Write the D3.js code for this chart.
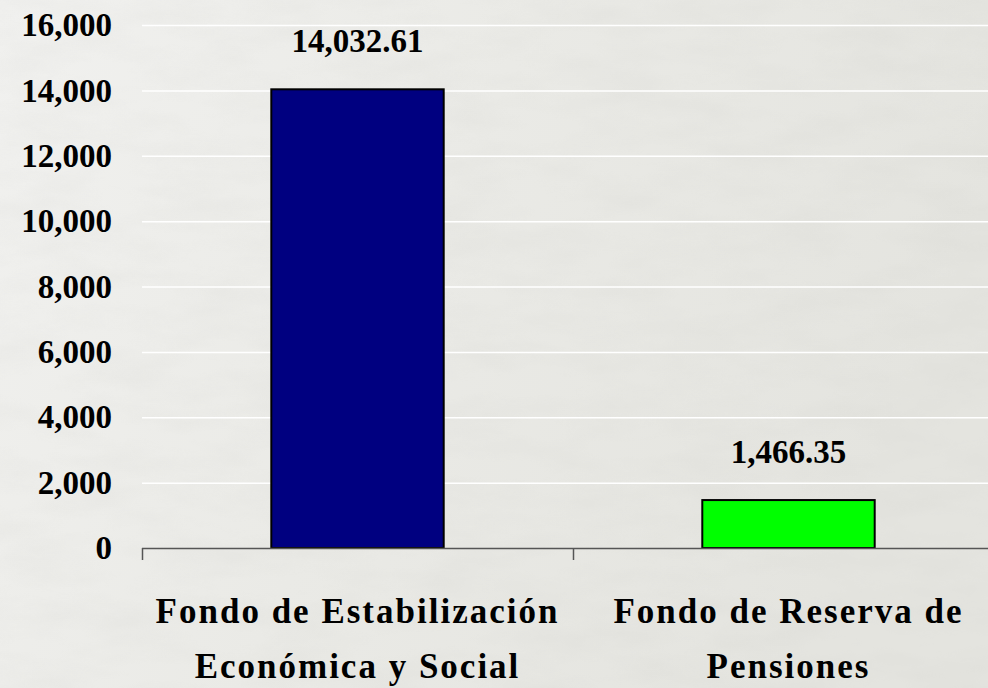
<!DOCTYPE html>
<html>
<head>
<meta charset="utf-8">
<script src="https://cdn.jsdelivr.net/npm/d3@7"></script>
<style>
  body { margin: 0; }
  svg { display: block; }
  text { font-family: "Palatino Linotype", "Book Antiqua", Palatino, "Liberation Serif", serif; font-weight: bold; fill: #000; }
</style>
</head>
<body>
<svg></svg>
<script>
var width = 988;
var height = 688;

var funds = ["Fondo de Estabilización Económica y Social", "Fondo de Reserva de Pensiones"];
var fundLines = [["Fondo de Estabilización", "Económica y Social"], ["Fondo de Reserva de", "Pensiones"]];
var balances = [14032.61, 1466.35];
var barColors = ["#000080", "#00ff00"];
var yTicks = [0, 2000, 4000, 6000, 8000, 10000, 12000, 14000, 16000];

var plotLeft = 142, plotRight = 1004, plotTop = 25, plotBottom = 548;

var xScale =
  d3.scaleBand()
    .domain(funds)
    .range([plotLeft, plotRight])
    .paddingInner(0.6)
    .paddingOuter(0.3);

var yScale =
  d3.scaleLinear()
    .domain([0, 16000])
    .range([plotBottom, plotTop]);

var svg = d3.select("svg")
  .attr("width", width)
  .attr("height", height);

// Stone-like background
var defs = svg.append("defs");
var filt = defs.append("filter").attr("id", "marble")
  .attr("x", 0).attr("y", 0).attr("width", "100%").attr("height", "100%");
filt.append("feTurbulence")
  .attr("type", "fractalNoise")
  .attr("baseFrequency", "0.012 0.035")
  .attr("numOctaves", 4)
  .attr("seed", 7);
filt.append("feColorMatrix")
  .attr("type", "matrix")
  .attr("values", "0 0 0 0 0.55  0 0 0 0 0.55  0 0 0 0 0.52  0.6 0 0 0 -0.22");

var grad = defs.append("linearGradient").attr("id", "bg")
  .attr("x1", 0).attr("y1", 0).attr("x2", 1).attr("y2", 0.3);
grad.append("stop").attr("offset", 0).attr("stop-color", "#f1f1ef");
grad.append("stop").attr("offset", 0.5).attr("stop-color", "#eaeae6");
grad.append("stop").attr("offset", 1).attr("stop-color", "#e4e4df");

svg.append("rect").attr("width", width).attr("height", height).attr("fill", "url(#bg)");
svg.append("rect").attr("width", width).attr("height", height)
  .attr("filter", "url(#marble)").attr("opacity", 0.35);

// Gridlines
svg.append("g")
  .selectAll("line")
  .data(yTicks.slice(1))
  .enter()
  .append("line")
    .attr("x1", plotLeft)
    .attr("x2", width)
    .attr("y1", d => yScale(d) + 0.5)
    .attr("y2", d => yScale(d) + 0.5)
    .attr("stroke", "#ffffff")
    .attr("stroke-width", 1.5);

// Y tick labels
svg.append("g")
  .selectAll("text")
  .data(yTicks)
  .enter()
  .append("text")
    .attr("x", plotLeft - 30)
    .attr("y", d => yScale(d))
    .attr("dy", "0.34em")
    .style("text-anchor", "end")
    .style("font-size", "33px")
    .text(d => d3.format(",")(d));

// Bars
svg.append("g")
  .selectAll("rect")
  .data(funds)
  .enter()
  .append("rect")
    .attr("x", d => xScale(d))
    .attr("y", (d, i) => yScale(balances[i]))
    .attr("width", xScale.bandwidth())
    .attr("height", (d, i) => yScale(0) - yScale(balances[i]))
    .attr("fill", (d, i) => barColors[i])
    .attr("stroke", "#000")
    .attr("stroke-width", 2);

// X axis line and category separators
svg.append("line")
  .attr("x1", plotLeft).attr("x2", width)
  .attr("y1", plotBottom + 0.5).attr("y2", plotBottom + 0.5)
  .attr("stroke", "#555").attr("stroke-width", 1.5);

svg.append("g")
  .selectAll("line")
  .data(d3.range(funds.length + 1))
  .enter()
  .append("line")
    .attr("x1", i => plotLeft + i * xScale.step() + 0.5)
    .attr("x2", i => plotLeft + i * xScale.step() + 0.5)
    .attr("y1", plotBottom)
    .attr("y2", plotBottom + 12)
    .attr("stroke", "#555")
    .attr("stroke-width", 1.5);

// Value labels
svg.append("g")
  .selectAll("text")
  .data(funds)
  .enter()
  .append("text")
    .attr("x", d => xScale(d) + xScale.bandwidth() / 2)
    .attr("y", (d, i) => yScale(balances[i]) - 37)
    .style("text-anchor", "middle")
    .style("font-size", "33px")
    .text((d, i) => d3.format(",.2f")(balances[i]));

// Category labels (two lines each)
var cat = svg.append("g")
  .selectAll("text")
  .data(funds)
  .enter()
  .append("text")
    .attr("x", d => xScale(d) + xScale.bandwidth() / 2)
    .attr("y", 623)
    .style("text-anchor", "middle")
    .style("font-size", "35px")
    .style("letter-spacing", "2px");

cat.each(function(d, i) {
  var t = d3.select(this);
  fundLines[i].forEach(function(line, j) {
    t.append("tspan")
      .attr("x", xScale(d) + xScale.bandwidth() / 2)
      .attr("y", 623 + j * 55)
      .text(line);
  });
});
</script>
</body>
</html>
